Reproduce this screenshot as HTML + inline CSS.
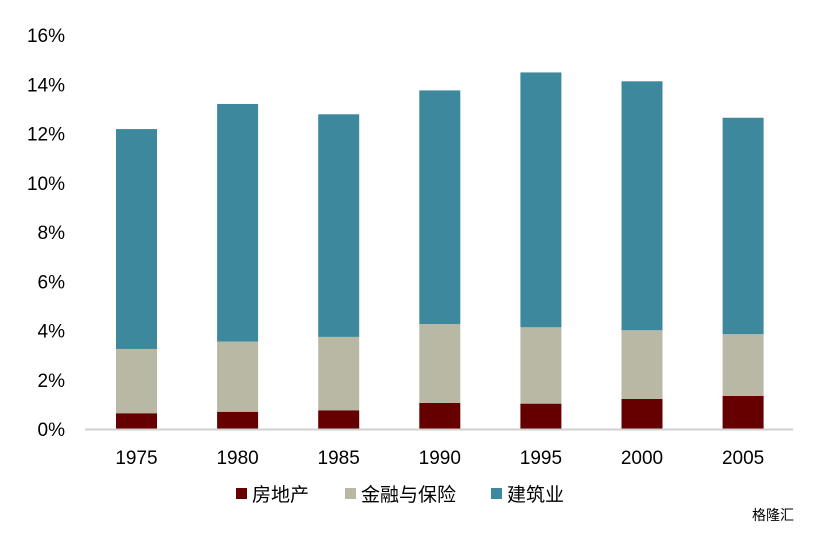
<!DOCTYPE html>
<html><head><meta charset="utf-8"><style>
body{margin:0;background:#fff;width:824px;height:533px;overflow:hidden}
svg text{font-family:"Liberation Sans","Noto Sans CJK SC",sans-serif;fill:#000}
</style></head><body>
<svg id="chart" width="824" height="533" xmlns="http://www.w3.org/2000/svg"></svg>
<script>
const categories=["1975","1980","1985","1990","1995","2000","2005"];
const realEstate=[0.64,0.70,0.76,1.06,1.03,1.22,1.34];
const finance=[2.61,2.85,2.98,3.20,3.10,2.79,2.51];
const construction=[8.93,9.65,9.04,9.49,10.35,10.11,8.79];
const yTicks=[0,2,4,6,8,10,12,14,16];
const seriesNames=["房地产","金融与保险","建筑业"];
const colors=["#660000","#B9B8A5","#3D889C"];
const NS="http://www.w3.org/2000/svg";
const svg=document.getElementById('chart');
const y0=429,pxPer=(429-35)/16;
function yScale(v){return y0-v*pxPer;}
function xScale(i){return 116+i*101.1;}
const bw=41;
function mk(t,a){const e=document.createElementNS(NS,t);for(const k in a)e.setAttribute(k,a[k]);svg.appendChild(e);return e;}
yTicks.forEach(v=>{
 const t=mk('text',{x:65,y:yScale(v)+7,'text-anchor':'end','font-size':19});
 t.textContent=v+'%';
 
 
});
const series=[realEstate,finance,construction];
const segNames=['real-estate','finance','construction'];
categories.forEach((c,i)=>{
 let base=0;
 series.forEach((s,k)=>{
  const top=base+s[i];
  const r=mk('rect',{x:xScale(i),y:yScale(top),width:bw,height:yScale(base)-yScale(top),fill:colors[k]});
  
  
  base=top;
 });
 const t=mk('text',{x:xScale(i)+bw/2,y:464,'text-anchor':'middle','font-size':19});
 t.textContent=c;
 
 
});
const ax=mk('line',{x1:85,x2:793,y1:429.5,y2:429.5,stroke:'#d0d0d0','stroke-width':2});


const lx=[236,345,491];
seriesNames.forEach((n,k)=>{
 const r=mk('rect',{x:lx[k],y:488,width:11,height:11,fill:colors[k]});
 
 
 const t=mk('text',{x:lx[k]+16,y:501,'font-size':19});
 t.textContent=n;
 
 
});
const w=mk('text',{x:752,y:520,'font-size':14,fill:'#bbb'});
w.textContent='格隆汇';
w.setAttribute('fill','#bbbbbb');


</script>
</body></html>
